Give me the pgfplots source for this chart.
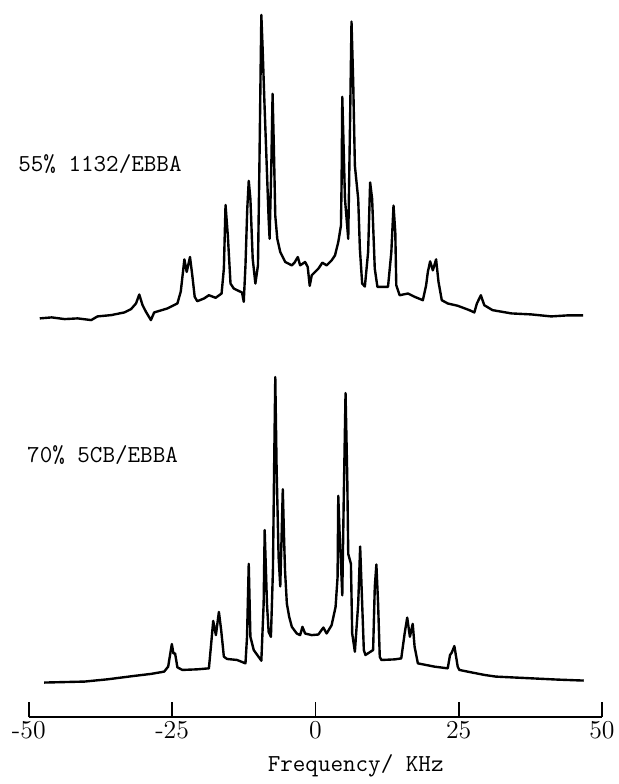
\documentclass[border=0pt]{standalone}
\usepackage{pgfplots}
\usepackage{pgfplotstable}
\pgfplotsset{compat=1.18}

\pgfplotstableread{
f     I
-48.09 401
-46.01 402
-43.75 400.3
-41.49 401
-39.11 399.3
-38.02 403
-35.64 404.3
-33.33 407
-32.17 410.3
-31.30 416
-30.73 425
-30.16 414.3
-29.57 407.7
-28.70 399.3
-28.13 407
-25.82 411
-24.08 416
-23.49 428
-23.04 451
-22.86 460.3
-22.45 447.7
-21.88 462.7
-21.48 444.3
-21.06 422.7
-20.61 418.3
-19.44 421
-18.58 424.3
-17.41 421.7
-16.37 426
-15.97 451
-15.68 515
-15.28 484.3
-14.81 436
-14.24 431
-12.80 427
-12.50 417.7
-12.20 454.3
-11.89 511
-11.63 539.3
-11.34 521
-10.94 461
-10.47 436
-10.02 454.3
-9.77 554.3
-9.55 654.3
-9.43 706
-9.20 671
-8.91 621
-8.45 547.7
-8.16 501
-7.99 481
-7.69 554.3
-7.47 626.7
-7.24 571
-7.00 504.3
-6.65 481
-6.13 467.7
-5.26 457.7
-4.11 454.3
-3.65 457
-3.07 462.7
-2.66 454.3
-1.79 457.7
-1.34 452.7
-0.99 433.7
-0.64 444.3
-0.05 447.7
0.52 451
1.22 457
1.96 454.3
2.83 459.3
3.42 464.3
3.99 477.7
4.46 494.3
4.57 537.7
4.69 623.7
4.86 587.7
5.16 521
5.73 481
6.02 587.7
6.30 699.3
6.60 637.7
6.89 554.3
7.47 521
7.76 471
8.16 436
8.63 433
9.20 467.7
9.55 537.7
9.90 521
10.36 451
10.82 432.7
12.67 432.7
13.25 467.7
13.63 514.3
13.94 487.7
14.11 434.3
14.70 424.3
16.15 426
17.31 422.7
18.75 419.3
19.32 434.3
19.62 447.7
20.02 458.3
20.49 449.3
21.06 460.3
21.48 437.7
22.05 419.3
23.09 416
24.83 413.7
26.86 409.3
27.73 407
28.18 416
28.87 424.3
29.46 414.3
30.90 409.3
34.20 406
37.67 405
41.15 403
43.92 404
46.70 404
}\upperdata

\pgfplotstableread{
f     I
-47.34 35
-40.28 36
-36.23 38.3
-31.60 41.7
-28.70 43.7
-26.39 46
-25.69 51
-25.35 63
-25.05 73.7
-24.77 64.3
-24.48 64.3
-24.08 50.3
-23.21 47.7
-20.61 48.3
-18.58 49.3
-18.18 74.3
-17.83 97
-17.36 82.7
-16.84 106
-16.44 87.7
-15.97 61
-15.40 58.7
-13.66 57.7
-12.20 54.3
-11.93 81
-11.63 154.3
-11.34 81
-10.76 67.7
-9.43 57
-9.03 114.3
-8.85 188.3
-8.45 114.3
-8.16 86
-7.76 81
-7.41 147.7
-7.20 251
-7.00 342
-6.77 251
-6.42 161
-6.13 131.7
-5.90 181
-5.69 229.3
-5.47 181
-5.30 147.7
-4.98 114.3
-4.57 101
-4.11 91
-3.25 84.3
-2.66 82.7
-2.26 91
-1.79 84.3
-0.64 82.7
0.52 83.3
1.39 90.3
1.96 84.3
2.83 92.7
3.52 111
3.87 141
3.99 222.7
4.25 181
4.46 154.3
4.69 122.7
4.95 221
5.26 326
5.56 241
5.73 164.3
6.20 154.3
6.42 84.3
6.89 66
7.47 114.3
7.81 171.7
8.16 114.3
8.45 67.7
8.73 62.7
10.07 67.7
10.36 131
10.64 153.7
10.94 114.3
11.23 61
11.51 57.7
13.84 58.3
14.98 59.3
15.57 84.3
16.02 100.3
16.49 81
16.98 94
17.31 71
17.88 54.3
20.78 51
23.09 49.3
23.49 62.7
23.78 65
24.25 71.7
24.83 51
25.12 47.7
26.56 46
29.46 42.7
31.48 41
37.55 39.3
42.19 38
46.82 37
}\lowerdata

\begin{document}
\begin{tikzpicture}
\begin{axis}[
  x=2.88bp, y=0.5bp,
  xmin=-50, xmax=50, ymin=0, ymax=711,
  axis x line=bottom, axis y line=none,
  x axis line style={-, line width=1bp},
  xtick={-50,-25,0,25,50},
  xticklabels={-50,-25,0,25,50},
  xtick pos=bottom,
  tick align=inside,
  major tick length=7.5bp,
  every tick/.style={black, line width=0.9bp},
  xticklabel style={font=\fontsize{13}{15}\selectfont, inner sep=2bp},
  xlabel={Frequency/ KHz},
  xlabel style={font=\ttfamily\fontsize{12.3}{14}\selectfont, at={(axis description cs:0.5703,0)}, anchor=center, yshift=-24.5bp},
  clip=false,
]
\path (axis cs:-55.03,-63) rectangle (axis cs:52.6,721);
\addplot[black, line width=1.2bp, line join=round, mark=none] table[x=f, y=I] {\upperdata};
\addplot[black, line width=1.2bp, line join=round, mark=none] table[x=f, y=I] {\lowerdata};
\node[anchor=west, inner sep=0pt, font=\ttfamily\fontsize{12.3}{14}\selectfont] at (axis cs:-51.9,556) {55\% 1132/EBBA};
\node[anchor=west, inner sep=0pt, font=\ttfamily\fontsize{12.3}{14}\selectfont] at (axis cs:-50.35,264) {70\% 5CB/EBBA};
\end{axis}
\end{tikzpicture}
\end{document}
